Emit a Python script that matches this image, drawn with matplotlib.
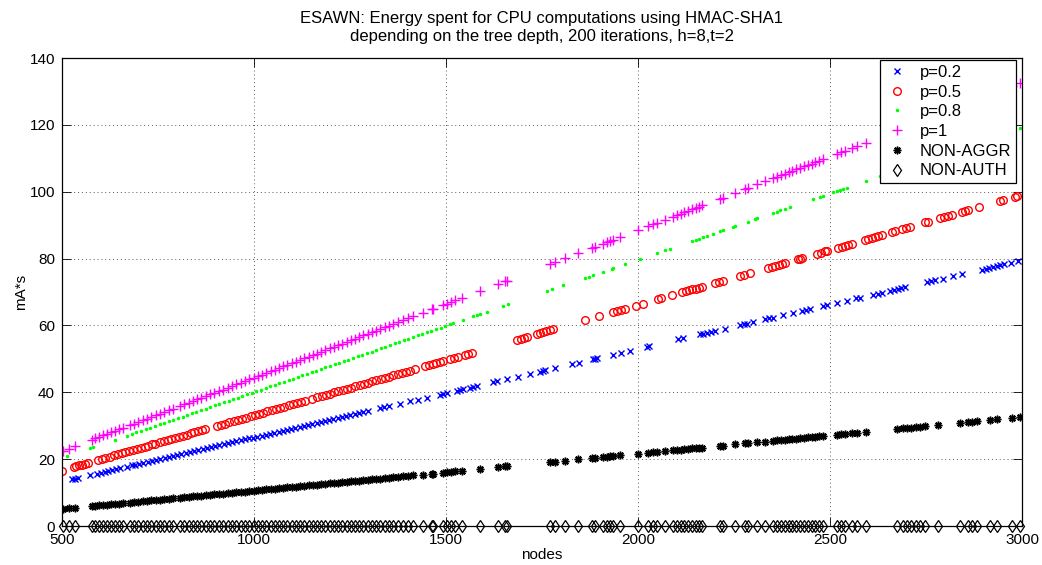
import matplotlib
matplotlib.use("Agg")
import matplotlib.pyplot as plt

plt.rcParams["font.family"] = ["Liberation Sans", "DejaVu Sans"]

# node counts shared by p=1, NON-AGGR and NON-AUTH runs
NODES_FULL = [
    502, 518, 535,
    577, 587, 597, 607, 617, 627, 638, 648, 659,
    677, 688, 699, 710, 721, 732, 744, 755, 766, 778, 789,
    807, 818, 830, 841, 852, 863, 874, 886, 897, 908, 919,
    932, 943, 954, 965, 976, 988, 999, 1010,
    1021, 1032, 1043, 1054, 1065, 1076, 1087, 1098, 1109, 1120, 1131, 1142,
    1153, 1164, 1175, 1186, 1197, 1208, 1219, 1230, 1241, 1252, 1263, 1274,
    1285, 1296, 1307, 1318, 1329, 1340, 1351, 1362,
    1375, 1388, 1401, 1414, 1440, 1464, 1467, 1492, 1502, 1513, 1523, 1542,
    1589, 1635, 1654, 1658, 1771, 1784, 1810, 1844, 1880, 1888, 1909, 1918,
    1927, 1935, 1953, 2000, 2026, 2038, 2050, 2070, 2091, 2101, 2111, 2121,
    2131, 2141, 2150, 2158, 2167, 2214, 2221, 2253, 2279, 2286, 2310, 2331,
    2352, 2362, 2372, 2382, 2392, 2402, 2412, 2422, 2432, 2442, 2452, 2462,
    2472, 2482, 2518, 2528, 2539, 2557, 2570, 2594, 2674, 2690, 2701, 2712,
    2723, 2734, 2747, 2781, 2839, 2859, 2871, 2883, 2917, 2935, 2974, 2995,
]

ENERGY_P1 = [
    22.4, 23.1, 23.9,
    25.7, 26.2, 26.6, 27.1, 27.5, 28.0, 28.4, 28.9, 29.4,
    30.2, 30.6, 31.1, 31.6, 32.1, 32.6, 33.1, 33.6, 34.1, 34.6, 35.1,
    35.9, 36.4, 36.9, 37.4, 37.9, 38.4, 38.8, 39.4, 39.9, 40.3, 40.8,
    41.4, 41.9, 42.4, 42.9, 43.3, 43.9, 44.4, 44.8,
    45.3, 45.8, 46.3, 46.8, 47.3, 47.8, 48.2, 48.7, 49.2, 49.7, 50.2, 50.7,
    51.1, 51.6, 52.1, 52.6, 53.1, 53.6, 54.1, 54.5, 55.0, 55.5, 56.0, 56.5,
    57.0, 57.5, 57.9, 58.4, 58.9, 59.4, 59.9, 60.4,
    60.9, 61.5, 62.1, 62.7, 63.8, 64.9, 65.0, 66.1, 66.5, 67.0, 67.5, 68.3,
    70.4, 72.4, 73.2, 73.4, 78.4, 79.0, 80.1, 81.6, 83.2, 83.6, 84.5, 84.9,
    85.3, 85.6, 86.4, 88.5, 89.6, 90.2, 90.7, 91.6, 92.5, 93.0, 93.4, 93.8,
    94.3, 94.7, 95.1, 95.5, 95.9, 97.9, 98.2, 99.7, 100.8, 101.1, 102.2, 103.1,
    104.0, 104.5, 104.9, 105.3, 105.8, 106.2, 106.7, 107.1, 107.6, 108.0, 108.4, 108.9,
    109.3, 109.8, 111.3, 111.8, 112.3, 113.1, 113.6, 114.7, 118.2, 118.9, 119.4, 119.9,
    120.4, 120.9, 121.4, 122.9, 125.5, 126.4, 126.9, 127.4, 128.9, 129.7, 131.5, 132.4,
]

ENERGY_NON_AGGR = [
    5.1, 5.3, 5.5,
    6.0, 6.1, 6.2, 6.3, 6.4, 6.5, 6.6, 6.7, 6.8,
    7.0, 7.2, 7.3, 7.4, 7.5, 7.7, 7.8, 7.9, 8.0, 8.2, 8.3,
    8.5, 8.6, 8.7, 8.9, 9.0, 9.1, 9.2, 9.3, 9.5, 9.6, 9.7,
    9.9, 10.0, 10.1, 10.2, 10.3, 10.5, 10.6, 10.7,
    10.8, 11.0, 11.1, 11.2, 11.3, 11.4, 11.6, 11.7, 11.8, 11.9, 12.0, 12.2,
    12.3, 12.4, 12.5, 12.6, 12.8, 12.9, 13.0, 13.1, 13.3, 13.4, 13.5, 13.6,
    13.7, 13.9, 14.0, 14.1, 14.2, 14.3, 14.5, 14.6,
    14.7, 14.9, 15.0, 15.2, 15.4, 15.7, 15.7, 16.0, 16.1, 16.2, 16.4, 16.6,
    17.1, 17.6, 17.8, 17.8, 19.1, 19.2, 19.5, 19.9, 20.3, 20.4, 20.6, 20.7,
    20.8, 20.9, 21.1, 21.6, 21.9, 22.0, 22.2, 22.4, 22.6, 22.7, 22.8, 22.9,
    23.0, 23.2, 23.3, 23.3, 23.4, 24.0, 24.0, 24.4, 24.7, 24.7, 25.0, 25.2,
    25.5, 25.6, 25.7, 25.8, 25.9, 26.0, 26.1, 26.2, 26.4, 26.5, 26.6, 26.7,
    26.8, 26.9, 27.3, 27.4, 27.5, 27.7, 27.9, 28.1, 29.0, 29.2, 29.3, 29.4,
    29.6, 29.7, 29.8, 30.2, 30.8, 31.0, 31.2, 31.3, 31.7, 31.9, 32.3, 32.5,
]

ENERGY_NON_AUTH = [0.0] * len(NODES_FULL)

NODES_P02 = [
    527, 534, 541, 573, 591, 601, 611, 621, 631, 641, 651, 669, 682,
    690, 701, 712, 723, 734, 745, 756, 767, 778, 789, 800, 811, 822, 833,
    844, 855, 866, 877, 888, 899, 910, 921, 932, 943, 954, 965, 976, 987,
    998, 1009, 1020, 1031, 1042, 1053, 1064, 1075, 1086, 1097, 1108, 1119,
    1130, 1141, 1152, 1163, 1174, 1185, 1196, 1207, 1218, 1229, 1240, 1251,
    1262, 1273, 1284, 1297,
    1328, 1339, 1352, 1380, 1406, 1427, 1450, 1484, 1492, 1503, 1529, 1537,
    1544, 1562, 1571, 1581, 1622, 1633, 1659, 1688, 1719, 1745, 1752, 1758,
    1784, 1828, 1846, 1883, 1889, 1893, 1935, 1956, 1979, 2023, 2029, 2104,
    2117, 2161, 2170, 2180, 2190, 2201, 2227, 2266, 2275, 2284, 2299, 2331,
    2342, 2352, 2378, 2404, 2427, 2437, 2448, 2482, 2492, 2518, 2544, 2568,
    2578, 2612, 2624, 2635, 2656, 2666, 2676, 2686, 2695, 2753, 2763, 2773,
    2794, 2820, 2844, 2896, 2906, 2915, 2925, 2934, 2943, 2953, 2971, 2990,
]

ENERGY_P02 = [
    14.0, 14.2, 14.3, 15.2, 15.7, 15.9, 16.2, 16.5, 16.7, 17.0, 17.3, 17.7, 18.1,
    18.3, 18.6, 18.9, 19.2, 19.5, 19.7, 20.0, 20.3, 20.6, 20.9, 21.2, 21.5, 21.8, 22.1,
    22.4, 22.7, 22.9, 23.2, 23.5, 23.8, 24.1, 24.4, 24.7, 25.0, 25.3, 25.6, 25.9, 26.2,
    26.4, 26.7, 27.0, 27.3, 27.6, 27.9, 28.2, 28.5, 28.8, 29.1, 29.4, 29.7,
    29.9, 30.2, 30.5, 30.8, 31.1, 31.4, 31.7, 32.0, 32.3, 32.6, 32.9, 33.2,
    33.4, 33.7, 34.0, 34.4,
    35.2, 35.5, 35.8, 36.6, 37.3, 37.8, 38.4, 39.3, 39.5, 39.8, 40.5, 40.7,
    40.9, 41.4, 41.6, 41.9, 43.0, 43.3, 44.0, 44.7, 45.6, 46.2, 46.4, 46.6,
    47.3, 48.4, 48.9, 49.9, 50.1, 50.2, 51.3, 51.8, 52.4, 53.6, 53.8, 55.8,
    56.1, 57.3, 57.5, 57.8, 58.0, 58.3, 59.0, 60.0, 60.3, 60.5, 60.9, 61.8,
    62.1, 62.3, 63.0, 63.7, 64.3, 64.6, 64.9, 65.8, 66.0, 66.7, 67.4, 68.1,
    68.3, 69.2, 69.5, 69.8, 70.4, 70.6, 70.9, 71.2, 71.4, 73.0, 73.2, 73.5,
    74.0, 74.7, 75.4, 76.7, 77.0, 77.2, 77.5, 77.8, 78.0, 78.3, 78.7, 79.2,
]

NODES_P05 = [
    500, 530, 537, 545, 553, 560, 568, 594, 603, 612,
    625, 635, 645, 655, 665, 675, 685, 695, 705, 715, 725, 735, 742,
    755, 765, 775, 785, 795, 805, 815, 825, 835, 845, 855, 864, 872,
    903, 914, 925, 936, 947, 958, 969, 980, 991, 1002, 1013, 1024, 1035,
    1046, 1057, 1068, 1079, 1090, 1101, 1112, 1123, 1134, 1150, 1165, 1176,
    1187, 1198, 1209, 1220, 1231, 1242, 1253, 1264, 1275, 1286, 1297, 1308,
    1319, 1330, 1341, 1352, 1363, 1374, 1385, 1396, 1407, 1418,
    1445, 1455, 1465, 1475, 1485, 1492, 1510, 1520, 1531, 1549, 1558, 1568,
    1685, 1695, 1703, 1711, 1737, 1745, 1752, 1760, 1771, 1779, 1862, 1898,
    1935, 1946, 1956, 1966, 1995, 2013, 2052, 2060, 2089, 2115, 2124, 2133,
    2141, 2150, 2158, 2167, 2201, 2211, 2221, 2266, 2276, 2292, 2339, 2348,
    2357, 2366, 2374, 2383, 2417, 2422, 2427, 2466, 2476, 2487, 2492, 2521,
    2530, 2540, 2548, 2557, 2591, 2600, 2609, 2618, 2626, 2635, 2661, 2669,
    2687, 2697, 2708, 2747, 2755, 2786, 2797, 2808, 2818, 2844, 2852, 2859,
    2888, 2943, 2951, 2982, 2987,
]

ENERGY_P05 = [
    16.6, 17.6, 17.8, 18.1, 18.3, 18.6, 18.8, 19.7, 20.0, 20.3,
    20.7, 21.1, 21.4, 21.7, 22.0, 22.4, 22.7, 23.0, 23.4, 23.7, 24.0, 24.4, 24.6,
    25.0, 25.3, 25.7, 26.0, 26.3, 26.7, 27.0, 27.3, 27.7, 28.0, 28.3, 28.6, 28.9,
    29.9, 30.3, 30.6, 31.0, 31.4, 31.7, 32.1, 32.4, 32.8, 33.2, 33.5, 33.9, 34.3,
    34.6, 35.0, 35.3, 35.7, 36.1, 36.4, 36.8, 37.2, 37.5, 38.0, 38.5, 38.9,
    39.3, 39.6, 40.0, 40.4, 40.7, 41.1, 41.4, 41.8, 42.2, 42.5, 42.9, 43.3,
    43.6, 44.0, 44.4, 44.7, 45.1, 45.4, 45.8, 46.2, 46.5, 46.9,
    47.8, 48.1, 48.4, 48.8, 49.1, 49.3, 49.9, 50.3, 50.6, 51.2, 51.5, 51.8,
    55.7, 56.0, 56.3, 56.6, 57.4, 57.7, 57.9, 58.2, 58.5, 58.8, 61.5, 62.7,
    64.0, 64.3, 64.6, 65.0, 65.9, 66.5, 67.8, 68.1, 69.0, 69.9, 70.2, 70.5,
    70.8, 71.0, 71.3, 71.6, 72.7, 73.1, 73.4, 74.9, 75.2, 75.7, 77.3, 77.6,
    77.9, 78.2, 78.4, 78.7, 79.9, 80.0, 80.2, 81.5, 81.8, 82.2, 82.3, 83.3,
    83.6, 83.9, 84.2, 84.5, 85.6, 85.9, 86.2, 86.5, 86.8, 87.1, 87.9, 88.2,
    88.8, 89.1, 89.5, 90.8, 91.0, 92.0, 92.4, 92.8, 93.1, 94.0, 94.2, 94.5,
    95.4, 97.2, 97.5, 98.5, 98.7,
]

NODES_P08 = [
    513, 573, 581, 638, 669,
    682, 694, 706, 718, 730, 742, 754, 766, 778, 790, 802, 814, 826, 838,
    850, 862, 874, 886, 898, 910, 922, 934, 946, 958, 970, 982, 994, 1006,
    1018, 1030, 1042, 1054, 1066, 1078, 1090, 1102, 1114, 1126, 1138, 1150,
    1162, 1174, 1186, 1198, 1210, 1222, 1234, 1246, 1258, 1270, 1282, 1294,
    1306, 1318, 1330, 1342, 1354, 1366, 1378, 1390, 1402, 1414, 1426, 1438,
    1450, 1462, 1474, 1486, 1498, 1510, 1518,
    1544, 1570, 1580, 1589, 1607, 1648, 1661, 1763, 1776, 1805, 1862, 1872,
    1883, 1909, 1932, 1935, 1966, 2005, 2049, 2070, 2083, 2141, 2150, 2160,
    2170, 2180, 2195, 2214, 2221, 2247, 2253, 2286, 2305, 2310, 2352, 2361,
    2370, 2383, 2396, 2456, 2474, 2482, 2508, 2517, 2526, 2535, 2544, 2594,
    2630, 2995,
]

ENERGY_P08 = [
    20.8, 23.2, 23.5, 25.8, 27.0,
    27.5, 28.0, 28.5, 28.9, 29.4, 29.9, 30.4, 30.8, 31.3, 31.8, 32.3, 32.7, 33.2, 33.7,
    34.2, 34.6, 35.1, 35.6, 36.1, 36.5, 37.0, 37.5, 38.0, 38.4, 38.9, 39.4, 39.9, 40.3,
    40.8, 41.3, 41.8, 42.2, 42.7, 43.2, 43.7, 44.1, 44.6, 45.1, 45.6, 46.0,
    46.5, 47.0, 47.5, 47.9, 48.4, 48.9, 49.4, 49.8, 50.3, 50.8, 51.3, 51.7,
    52.2, 52.7, 53.2, 53.6, 54.1, 54.6, 55.1, 55.5, 56.0, 56.5, 57.0, 57.4,
    57.9, 58.4, 58.9, 59.3, 59.8, 60.3, 60.6,
    61.6, 62.7, 63.1, 63.4, 64.1, 65.8, 66.3, 70.3, 70.8, 72.0, 74.2, 74.6,
    75.1, 76.1, 77.0, 77.1, 78.4, 79.9, 81.6, 82.5, 83.0, 85.3, 85.6, 86.0,
    86.4, 86.8, 87.4, 88.2, 88.5, 89.5, 89.7, 91.0, 91.8, 92.0, 93.6, 94.0,
    94.4, 94.9, 95.4, 97.8, 98.5, 98.8, 99.8, 100.2, 100.5, 100.9, 101.2, 103.2,
    104.6, 119.1,
]

fig = plt.figure(figsize=(10.42, 5.65), dpi=100)
ax = fig.add_axes([62 / 1042, 39 / 565, 960 / 1042, 468 / 565])

ax.plot(NODES_P02, ENERGY_P02, "x", color="#0000ff", ms=4.5, mew=1.0, label="p=0.2")
ax.plot(NODES_P05, ENERGY_P05, "o", color="#ff0000", mfc="none", ms=5.5, mew=1.0, label="p=0.5")
ax.plot(NODES_P08, ENERGY_P08, ".", color="#00ff00", ms=3, label="p=0.8")
ax.plot(NODES_FULL, ENERGY_P1, "+", color="#ff00ff", ms=6.5, mew=1.0, label="p=1")
ax.plot(NODES_FULL, ENERGY_NON_AGGR, marker=(8, 2, 0), ls="none", color="black",
        ms=5.5, mew=1.1, label="NON-AGGR")
ax.plot(NODES_FULL, ENERGY_NON_AUTH, "d", color="black", mfc="none", ms=6, mew=0.9,
        label="NON-AUTH", clip_on=False, zorder=5)

ax.set_xlim(500, 3000)
ax.set_ylim(0, 140)
ax.set_xticks(range(500, 3001, 500))
ax.set_yticks(range(0, 141, 20))
ax.tick_params(direction="in", length=6.5, width=0.6, top=True, right=True,
               labelsize=11, pad=5)
ax.grid(True, linestyle=(0, (1, 3)), linewidth=0.7, color="0.35")
for side in ax.spines.values():
    side.set_linewidth(0.9)

ax.set_xlabel("nodes", fontsize=11, labelpad=1)
ax.set_ylabel("mA*s", fontsize=11, labelpad=1)
ax.set_title("ESAWN: Energy spent for CPU computations using HMAC-SHA1\n"
             "depending on the tree depth, 200 iterations, h=8,t=2",
             fontsize=12, pad=12, linespacing=1.25)

leg = ax.legend(loc="upper right", bbox_to_anchor=(1016 / 1042, 505 / 565),
                bbox_transform=fig.transFigure, fontsize=12, numpoints=1,
                fancybox=False, framealpha=1, edgecolor="black",
                borderpad=0.3, labelspacing=0.28, handlelength=1.5,
                handletextpad=0.6, borderaxespad=0)
leg.get_frame().set_linewidth(0.9)
leg.set_zorder(10)

fig.savefig("out.png", dpi=100)
